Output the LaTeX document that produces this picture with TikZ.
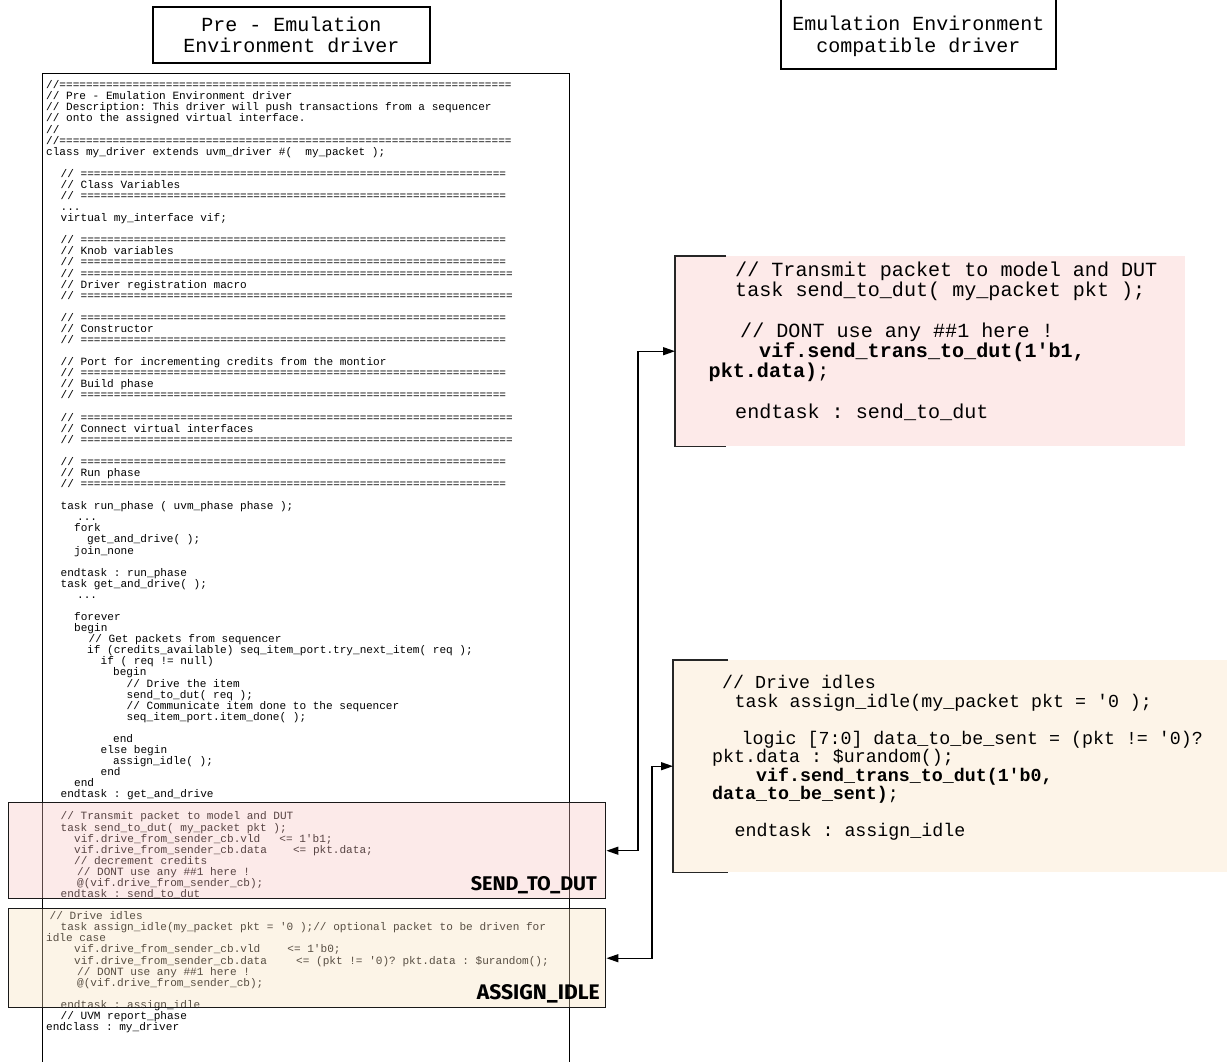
\documentclass[tikz,border=0pt]{standalone}
\usepackage{fontspec}
\usepackage{graphicx}
\setmonofont{Liberation Mono}
\newfontfamily\lblfont{Fira Sans}
\usetikzlibrary{arrows.meta}

\definecolor{pinkfill}{RGB}{253,234,233}
\definecolor{orangefill}{RGB}{253,244,232}
\definecolor{pinkwash}{RGB}{249,195,192}
\definecolor{orangewash}{RGB}{249,224,189}

% rulers of '=' used in the source comments
\newcommand\eqten{==========}
\newcommand\eqsixty{\eqten\eqten\eqten\eqten\eqten\eqten}
\newcommand\eqhead{//\eqsixty========}
\newcommand\eqshort{// \eqsixty====}
\newcommand\eqlong{// \eqsixty=====}
\newcommand\cind[1]{\hspace*{#1pt}}
\newcommand\colbox[2]{\makebox[#1pt][l]{#2}}
\newcommand\blankline{\mbox{}}
% keep every space one character wide
\newcommand\fixedspaces{\spaceskip=0pt\xspaceskip=0pt\relax}

% type sizes
\newcommand\listingsetup{\parindent=0pt\parskip=0pt\lineskiplimit=-50pt\relax}
\newcommand\codesize{\ttfamily\fontsize{11.08}{11.08}\selectfont\listingsetup}
\newcommand\pinksize{\ttfamily\fontsize{20.1}{20.3}\selectfont\listingsetup}
\newcommand\orangesize{\ttfamily\fontsize{18.3}{18.5}\selectfont\listingsetup}
\newcommand\hdrsize{\ttfamily\fontsize{20}{21.5}\selectfont}

\begin{document}
\begin{tikzpicture}[x=1pt,y=-1pt,
  codetext/.style={font=\codesize, text width=540pt, align=flush left, inner sep=0pt, anchor=north west},
  hdr/.style={draw, line width=1.4pt, inner sep=0pt},
  hdrtext/.style={align=center, font=\hdrsize, inner sep=0pt},
  wash/.style={draw=black!90, line width=1.4pt, fill opacity=0.35, inner sep=0pt, anchor=north west},
  panel/.style={inner sep=0pt, anchor=north west},
  bracket/.style={line width=1.5pt, black!85},
  lbl/.style={anchor=base east, inner sep=0pt, font=\lblfont\bfseries},
  link/.style={line width=1.3pt, {Triangle[length=12pt,width=8pt]}-{Triangle[length=12pt,width=8pt]}}
]
\useasboundingbox[fill=white] (0,0) rectangle (1227,1061);

% ---- listing of the original driver ----
\node[draw, line width=1.4pt, inner sep=0pt, anchor=north west,
      minimum width=527pt, minimum height=1010pt] (codebox) at (42,73) {};

\node[codetext] (code) at (46,78.5) {\fixedspaces\rule{0pt}{10pt}\eqhead\\
// Pre - Emulation Environment driver\\
// Description: This driver will push transactions from a sequencer\\
// onto the assigned virtual interface.\\
//\\
\eqhead\\
class my\_driver extends uvm\_driver \#(\ \ my\_packet );\\
\blankline\\
\cind{14.5}\eqshort\\
\cind{14.5}// Class Variables\\
\cind{14.5}\eqshort\\
\cind{14.5}...\\
\cind{14.5}virtual my\_interface vif;\\
\blankline\\
\cind{14.5}\eqshort\\
\cind{14.5}// Knob variables\\
\cind{14.5}\eqshort\\
\cind{14.5}\eqlong\\
\cind{14.5}// Driver registration macro\\
\cind{14.5}\eqlong\\
\blankline\\
\cind{14.5}\eqshort\\
\cind{14.5}// Constructor\\
\cind{14.5}\eqshort\\
\blankline\\
\cind{14.5}// Port for incrementing credits from the montior\\
\cind{14.5}\eqshort\\
\cind{14.5}// Build phase\\
\cind{14.5}\eqshort\\
\blankline\\
\cind{14.5}\eqlong\\
\cind{14.5}// Connect virtual interfaces\\
\cind{14.5}\eqlong\\
\blankline\\
\cind{14.5}\eqshort\\
\cind{14.5}// Run phase\\
\cind{14.5}\eqshort\\
\blankline\\
\cind{14.5}task run\_phase ( uvm\_phase phase );\\
\cind{31}...\\
\cind{28}fork\\
\cind{41}get\_and\_drive( );\\
\cind{28}join\_none\\
\blankline\\
\cind{14.5}endtask : run\_phase\\
\cind{14.5}task get\_and\_drive( );\\
\cind{31}...\\
\blankline\\
\cind{28}forever\\
\cind{28}begin\\
\cind{42.5}// Get packets from sequencer\\
\cind{41}if (credits\_available) seq\_item\_port.try\_next\_item( req );\\
\cind{54.5}if ( req != null)\\
\cind{67}begin\\
\cind{80.5}// Drive the item\\
\cind{80.5}send\_to\_dut( req );\\
\cind{80.5}// Communicate item done to the sequencer\\
\cind{80.5}seq\_item\_port.item\_done( );\\
\blankline\\
\cind{67}end\\
\cind{54.5}else begin\\
\cind{67}assign\_idle( );\\
\cind{54.5}end\\
\cind{28}end\\
\cind{14.5}endtask : get\_and\_drive\\
\blankline\\
\cind{14.5}// Transmit packet to model and DUT\\
\cind{14.5}task send\_to\_dut( my\_packet pkt );\\
\cind{28}\colbox{205.2}{vif.drive\_from\_sender\_cb.vld}<= 1'b1;\\
\cind{28}\colbox{218.9}{vif.drive\_from\_sender\_cb.data}<= pkt.data;\\
\cind{28}// decrement credits\\
\cind{31}// DONT use any \#\#1 here !\\
\cind{31}@(vif.drive\_from\_sender\_cb);\\
\cind{14.5}endtask : send\_to\_dut\\
\blankline\\
\cind{3.5}// Drive idles\\
\cind{14.5}task assign\_idle(my\_packet pkt = '0 );// optional packet to be driven for\\
idle case\\
\cind{28}\colbox{213.2}{vif.drive\_from\_sender\_cb.vld}<= 1'b0;\\
\cind{28}\colbox{222}{vif.drive\_from\_sender\_cb.data}<= (pkt != '0)? pkt.data : \$urandom();\\
\cind{31}// DONT use any \#\#1 here !\\
\cind{31}@(vif.drive\_from\_sender\_cb);\\
\blankline\\
\cind{14.5}endtask : assign\_idle\\
\cind{14.5}// UVM report\_phase\\
endclass : my\_driver};

% ---- highlighted tasks inside the listing ----
\node[wash, fill=pinkwash, minimum width=597pt, minimum height=96pt] (pinkL) at (8,802) {};
\node[wash, fill=orangewash, minimum width=597pt, minimum height=99pt] (orangeL) at (8,908) {};
\node[lbl] (sendlbl) at (597,890) {\resizebox{126pt}{!}{SEND\_TO\_DUT}};
\node[lbl] (idlelbl) at (600,999) {\resizebox{123pt}{!}{ASSIGN\_IDLE}};

% ---- rewritten tasks ----
\node[panel, fill=pinkfill, minimum width=510pt, minimum height=190pt] (pinkR) at (675,256) {};
\node[panel, fill=orangefill, minimum width=557pt, minimum height=212pt] (orangeR) at (673,660) {};
\draw[bracket] ([xshift=51pt]pinkR.north west) -- (pinkR.north west) -- (pinkR.south west) -- ([xshift=51pt]pinkR.south west);
\draw[bracket] ([xshift=55pt]orangeR.north west) -- (orangeR.north west) -- (orangeR.south west) -- ([xshift=55pt]orangeR.south west);

\node[panel, text width=470pt, align=flush left, font=\pinksize] (pinktxt) at (708.5,258) {\fixedspaces\rule{0pt}{18pt}\cind{26.5}// Transmit packet to model and DUT\\
\cind{26.5}task send\_to\_dut( my\_packet pkt );\\
\blankline\\
\cind{31.5}// DONT use any \#\#1 here !\\
\cind{50.5}\textbf{vif.send\_trans\_to\_dut(1'b1,}\\
\textbf{pkt.data)};\\
\blankline\\
\cind{26.5}endtask : send\_to\_dut};

\node[panel, text width=510pt, align=flush left, font=\orangesize] (orangetxt) at (712,670.5) {\fixedspaces\rule{0pt}{18pt}\cind{10}// Drive idles\\
\cind{22.5}task assign\_idle(my\_packet pkt = '0 );\\
\blankline\\
\cind{29.5}logic [7:0] data\_to\_be\_sent = (pkt != '0)?\\
pkt.data : \$urandom();\\
\cind{44}\textbf{vif.send\_trans\_to\_dut(1'b0,}\\
\textbf{data\_to\_be\_sent)};\\
\blankline\\
\cind{22.5}endtask : assign\_idle};

% ---- links between the two versions ----
\draw[link] (pinkR.west) -- ++(-37,0) |- (pinkL.east);
\draw[link] (orangeR.west) -- ++(-21,0) |- (orangeL.east);

% ---- column titles ----
\node[hdr, minimum width=277pt, minimum height=56pt] (hdrL) at (291.5,35) {};
\node[hdrtext] (hdrLtext) at (291.5,35) {Pre - Emulation\\Environment driver};
\node[hdr, minimum width=275pt, minimum height=71pt] (hdrR) at (918.5,33.5) {};
\node[hdrtext] (hdrRtext) at (918.5,36.5) {Emulation Environment\\compatible driver};
\end{tikzpicture}
\end{document}
